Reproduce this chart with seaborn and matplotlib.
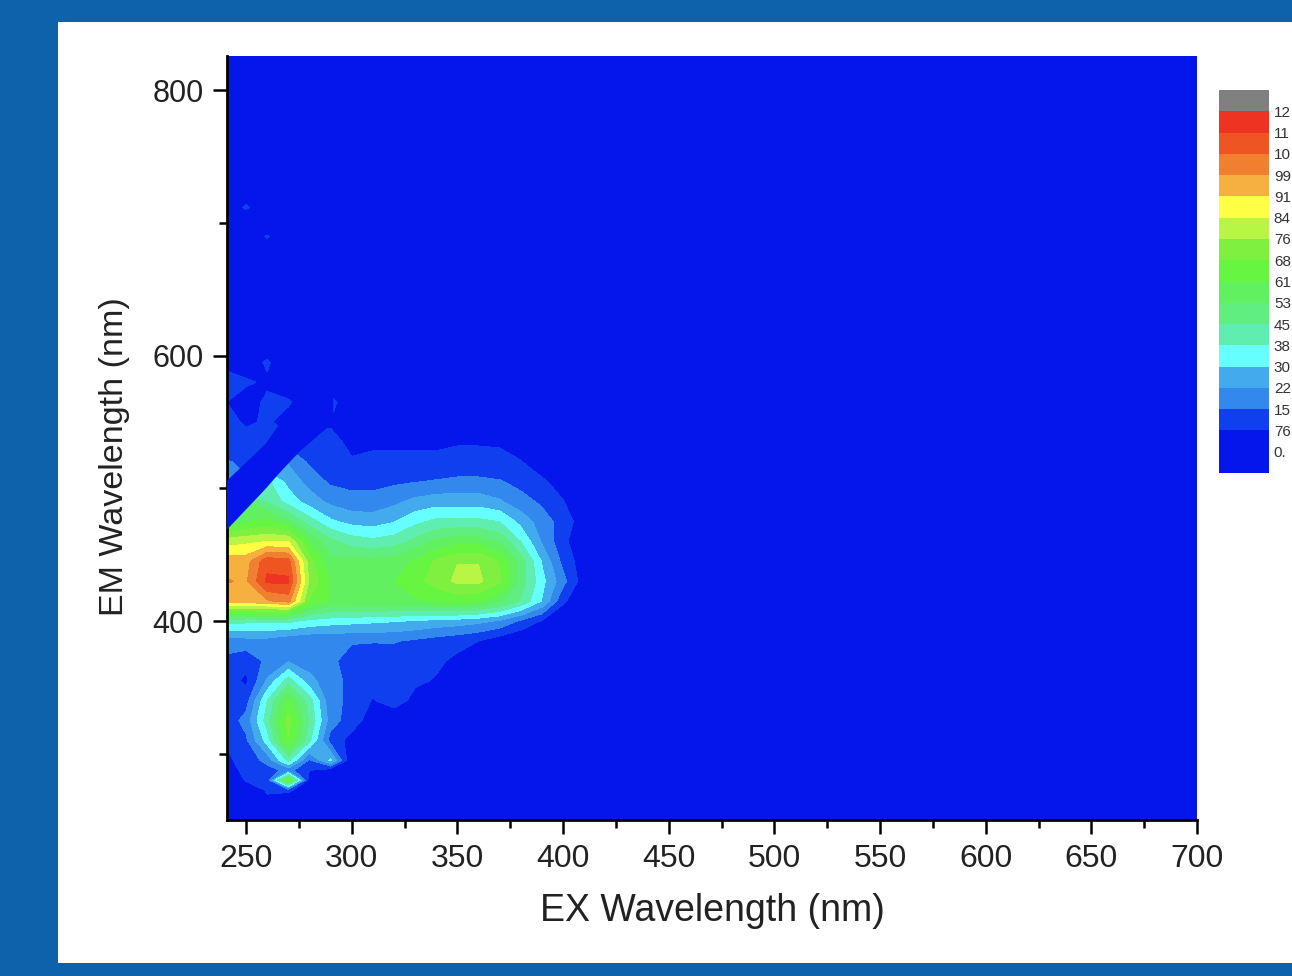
#!/usr/bin/env python3
"""EEM fluorescence contour map on a blue slide panel, values read off the picture."""
import matplotlib

matplotlib.use("Agg")
import matplotlib.pyplot as plt
import numpy as np
import pandas as pd
import seaborn as sns
from matplotlib.colors import BoundaryNorm, ListedColormap
from matplotlib.patches import Rectangle
from matplotlib.ticker import MultipleLocator

W, H = 1292, 976

# intensity in thousands, one row per EM wavelength, one column per EX wavelength
ex_nm = [240, 250, 260, 270, 280, 290, 300, 310, 320, 330, 340, 350, 360, 370, 380, 390, 400, 410, 420, 700]
em_nm = [250, 265, 272.5, 280, 287.5, 295, 310, 325, 340, 355, 370, 385, 400, 415, 430, 445, 460, 475, 490, 505,
         520, 535, 550, 565, 580, 595, 610, 625, 675, 690, 700, 712, 725, 830]
intensity = [
    [0, 0, 0, 0, 0, 0, 0, 0, 0, 0, 0, 0, 0, 0, 0, 0, 0, 0, 0, 0],
    [2, 4, 7, 0, 0, 0, 0, 0, 0, 0, 0, 0, 0, 0, 0, 0, 0, 0, 0, 0],
    [3, 5, 8, 10, 0, 0, 0, 0, 0, 0, 0, 0, 0, 0, 0, 0, 0, 0, 0, 0],
    [3, 8, 10, 68, 2, 0, 0, 0, 0, 0, 0, 0, 0, 0, 0, 0, 0, 0, 0, 0],
    [5, 9, 12, 18, 8, 3, 0, 0, 0, 0, 0, 0, 0, 0, 0, 0, 0, 0, 0, 0],
    [6, 10, 18, 40, 14, 32, 0, 0, 0, 0, 0, 0, 0, 0, 0, 0, 0, 0, 0, 0],
    [8, 14, 34, 68, 40, 12, 5, 0, 0, 0, 0, 0, 0, 0, 0, 0, 0, 0, 0, 0],
    [10, 18, 42, 72, 45, 19, 11, 4, 0, 0, 0, 0, 0, 0, 0, 0, 0, 0, 0, 0],
    [9, 12, 38, 62, 42, 17, 14, 7, 12, 5, 0, 0, 0, 0, 0, 0, 0, 0, 0, 0],
    [12, 6, 24, 42, 26, 17, 14, 10, 10, 9, 7, 0, 0, 0, 0, 0, 0, 0, 0, 0],
    [14, 10, 17, 22, 18, 17, 12, 9, 10, 9, 9, 6, 0, 0, 0, 0, 0, 0, 0, 0],
    [18, 20, 20, 17, 16, 16, 16, 16, 16, 14, 12, 10, 7.6, 3, 0, 0, 0, 0, 0, 0],
    [42, 40, 40, 40, 36, 34, 33, 32, 31, 30, 28, 27, 25, 22, 14, 7, 1, 0, 0, 0],
    [95, 96, 98, 102, 68, 60, 60, 60, 60, 60, 62, 64, 62, 55, 45, 30, 9, 1, 0, 0],
    [100, 98, 116, 116, 75, 60, 60, 60, 61, 66, 72, 78, 78, 70, 50, 33, 18, 3, 0, 0],
    [96, 96, 112, 110, 72, 55, 56, 56, 57, 62, 70, 76, 76, 68, 50, 30, 13, 3, 0, 0],
    [80, 82, 84, 84, 60, 48, 42, 40, 42, 48, 55, 58, 58, 52, 38, 22, 10, 0, 0, 0],
    [55, 60, 63, 55, 42, 32, 28, 27, 30, 36, 40, 40, 40, 38, 28, 19, 12, 3, 0, 0],
    [30, 55, 45, 35, 27, 21, 18, 18, 21, 25, 27, 27, 27, 24, 18, 14, 8, 1, 0, 0],
    [16, 16, 40, 28, 20, 14, 13, 13, 14, 15, 16, 17, 17, 16, 13, 9, 4, 0, 0, 0],
    [16, 14, 20, 22, 14, 9, 8, 9, 9, 9, 9, 10, 10, 9, 8, 3, 0, 0, 0, 0],
    [10, 12, 10, 12, 10, 9, 6.5, 6.5, 6.5, 6.5, 6.5, 7, 7, 7, 3, 0, 0, 0, 0, 0],
    [12, 6, 9, 3, 5, 7, 0, 0, 0, 0, 0, 0, 0, 0, 0, 0, 0, 0, 0, 0],
    [8, 3, 9.5, 9, 0, 11, 0, 0, 0, 0, 0, 0, 0, 0, 0, 0, 0, 0, 0, 0],
    [10, 9, 6, 0, 0, 0, 0, 0, 0, 0, 0, 0, 0, 0, 0, 0, 0, 0, 0, 0],
    [6, 2, 9, 0, 0, 0, 0, 0, 0, 0, 0, 0, 0, 0, 0, 0, 0, 0, 0, 0],
    [9, 1, 0, 0, 0, 0, 0, 0, 0, 0, 0, 0, 0, 0, 0, 0, 0, 0, 0, 0],
    [0, 0, 0, 0, 0, 0, 0, 0, 0, 0, 0, 0, 0, 0, 0, 0, 0, 0, 0, 0],
    [0, 0, 0, 0, 0, 0, 0, 0, 0, 0, 0, 0, 0, 0, 0, 0, 0, 0, 0, 0],
    [0, 0, 8.5, 0, 0, 0, 0, 0, 0, 0, 0, 0, 0, 0, 0, 0, 0, 0, 0, 0],
    [0, 0, 0, 0, 0, 0, 0, 0, 0, 0, 0, 0, 0, 0, 0, 0, 0, 0, 0, 0],
    [0, 9, 0, 0, 0, 0, 0, 0, 0, 0, 0, 0, 0, 0, 0, 0, 0, 0, 0, 0],
    [0, 0, 0, 0, 0, 0, 0, 0, 0, 0, 0, 0, 0, 0, 0, 0, 0, 0, 0, 0],
    [0, 0, 0, 0, 0, 0, 0, 0, 0, 0, 0, 0, 0, 0, 0, 0, 0, 0, 0, 0],
]

# scattered-light strip blanked out of the map
band_ex = [240, 259, 265.6, 275, 291]
band_em_low = [468, 500, 512, 528, 550]
band_em_high = [505, 534, 549, 572, 594]

levels = [-1, 7.6, 15.3, 22.9, 30.5, 38.1, 45.8, 53.4, 61.0, 68.7, 76.3, 83.9, 91.6, 99.2, 106.8, 114.5, 122.1]
band_colors = ["#0416EC", "#0F3FEE", "#3388EE", "#44AAEE", "#66FFFF", "#60EEB0", "#60EE80", "#60F060",
               "#66F540", "#80F040", "#B8F545", "#FFFF44", "#F5B040", "#F08030", "#EE5522", "#EE3322"]
over_color = "#808080"
legend_labels = ["12", "11", "10", "99", "91", "84", "76", "68", "61", "53", "45", "38", "30", "22", "15", "76", "0."]


def axes_px(fig, left, top, right, bottom):
    return fig.add_axes([left / W, 1 - bottom / H, (right - left) / W, (bottom - top) / H])


sns.set_theme(style="ticks")
plt.rcParams["font.family"] = ["Liberation Sans", "DejaVu Sans"]

fig = plt.figure(figsize=(W / 100, H / 100), dpi=100, facecolor="#0D62AB")
fig.patches.append(Rectangle((58 / W, 1 - 963 / H), (W - 58) / W, (963 - 22) / H, transform=fig.transFigure,
                             facecolor="white", edgecolor="none", zorder=-1))

cmap = ListedColormap(band_colors)
cmap.set_over(over_color)
norm = BoundaryNorm(levels, cmap.N)

ax = axes_px(fig, 227, 56, 1197, 820)
ax.contourf(ex_nm, em_nm, np.array(intensity), levels=levels, cmap=cmap, norm=norm, extend="max")
ax.fill_between(band_ex, band_em_low, band_em_high, color=band_colors[0], linewidth=0, zorder=3)
ax.set_xlim(241, 700)
ax.set_ylim(250, 826)
ax.xaxis.set_major_locator(MultipleLocator(50))
ax.xaxis.set_minor_locator(MultipleLocator(25))
ax.yaxis.set_major_locator(MultipleLocator(200))
ax.yaxis.set_minor_locator(MultipleLocator(100))
ax.tick_params(which="major", length=10, width=1.8, labelcolor="#222222", color="black", pad=7)
ax.tick_params(which="minor", length=6, width=1.8, color="black")
ax.tick_params(axis="x", which="major", labelsize=23)
ax.tick_params(axis="y", which="major", labelsize=22)
ax.set_xlabel("EX Wavelength (nm)", fontsize=27, color="#222222", labelpad=14)
ax.set_ylabel("EM Wavelength (nm)", fontsize=24.5, color="#222222")
ax.yaxis.set_label_coords(-0.1, 0.475)
sns.despine(ax=ax)
for side in ("left", "bottom"):
    ax.spines[side].set_linewidth(2.0)
    ax.spines[side].set_color("black")

# legend: one stacked block per band, lowest colour twice as tall as in the original
legend_colors = [over_color] + band_colors[::-1] + [band_colors[0]]
legend = pd.DataFrame({"band": np.arange(len(legend_colors))})
cax = axes_px(fig, 1219, 90, 1269, 473)
sns.heatmap(legend, ax=cax, cmap=ListedColormap(legend_colors), cbar=False, xticklabels=False)
cax.yaxis.tick_right()
cax.set_yticks(np.arange(1, len(legend_labels) + 1), legend_labels, rotation=0)
cax.tick_params(axis="y", length=0, labelsize=11, labelcolor="#333333", pad=3.5)
cax.set_ylabel("")

fig.savefig("out.png", dpi=100, facecolor=fig.get_facecolor())
